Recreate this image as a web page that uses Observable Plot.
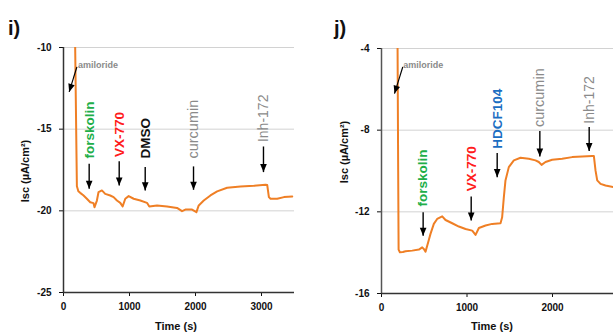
<!DOCTYPE html>
<html><head><meta charset="utf-8">
<script src="https://cdn.jsdelivr.net/npm/d3@7"></script>
<script src="https://cdn.jsdelivr.net/npm/@observablehq/plot@0.6"></script>
<style>
body{margin:0;background:#fff;}
#wrap{position:relative;width:613px;height:332px;overflow:hidden;font-family:"Liberation Sans",Arial,sans-serif;}
.panel{position:absolute;top:0;}
.lbl{position:absolute;font-weight:bold;color:#111;white-space:nowrap;line-height:1;}
</style></head><body>
<div id="wrap"></div>
<script>
// ---------- Panel i data ----------
const timeI = [150,177,195,203,225,253,300,354,405,455,470,506,531,582,632,708,759,810,860,896,936,987,1063,1164,1265,1300,1417,1569,1720,1796,1847,1948,2014,2049,2125,2226,2328,2479,2682,2884,3061,3087,3112,3137,3238,3340,3466];
const iscI  = [-4,-10,-16,-18.5,-18.8,-18.9,-19.05,-19.26,-19.47,-19.53,-19.78,-19.37,-18.85,-18.75,-18.96,-19.06,-19.16,-19.37,-19.51,-19.73,-19.26,-19.1,-19.26,-19.37,-19.51,-19.73,-19.67,-19.73,-19.82,-20.02,-19.92,-19.92,-20.08,-19.67,-19.37,-19.06,-18.81,-18.59,-18.51,-18.47,-18.4,-18.42,-19.16,-19.26,-19.26,-19.16,-19.12];
const yTicksI = [-25,-20,-15,-10];
const xTicksI = [0,1000,2000,3000];
const drugsI = ["forskolin","VX-770","DMSO","curcumin","Inh-172"];
const addTimeI = [389,844,1238,1970,3030];
const labelBaseI = [-16.8,-16.71,-16.8,-16.8,-15.79];
const arrowTopI = [-17.12,-16.96,-17.32,-17.28,-16.06];
const arrowTipI = [-18.65,-18.45,-18.75,-18.71,-17.63];
const amilorideI = {textT:218, textV:-11.23, fromT:203, fromV:-11.19, tipT:86, tipV:-12.72};

// ---------- Panel j data ----------
const timeJ = [150,188,195,200,215,250,281,359,437,476,495,515,546,573,612,651,710,749,827,905,983,1061,1100,1139,1217,1294,1392,1411,1431,1450,1489,1548,1626,1723,1801,1840,1872,1918,1996,2113,2230,2347,2464,2484,2503,2523,2562,2620,2714,2800];
const iscJ  = [-2,-4,-10,-13.85,-13.98,-13.97,-13.93,-13.9,-13.85,-13.74,-13.82,-13.95,-13.49,-13.08,-12.59,-12.35,-12.22,-12.4,-12.56,-12.72,-12.84,-12.92,-13.13,-12.79,-12.67,-12.59,-12.56,-12.27,-11.28,-10.46,-9.81,-9.48,-9.35,-9.4,-9.48,-9.56,-9.7,-9.56,-9.45,-9.4,-9.32,-9.29,-9.27,-9.27,-9.97,-10.46,-10.63,-10.71,-10.79,-10.82];
const yTicksJ = [-16,-12,-8,-4];
const xTicksJ = [0,1000,2000];
const drugsJ = ["forskolin","VX-770","HDCF104","curcumin","Inh-172"];
const addTimeJ = [487,1049,1353,1852,2429];
const labelBaseJ = [-11.74,-10.99,-8.91,-7.85,-7.68];
const arrowTopJ = [-12.02,-11.25,-9.12,-8.04,-7.85];
const arrowTipJ = [-13.17,-12.43,-10.3,-9.29,-9.02];
const amilorideJ = {textT:254, textV:-4.97, fromT:249, fromV:-4.9, tipT:152, tipV:-6.21};

// ---------- styles ----------
const drugColor = {forskolin:"#20ae48","VX-770":"#ff1c1c",DMSO:"#111111",HDCF104:"#1b6ec2",curcumin:"#8a8a8a","Inh-172":"#8a8a8a",amiloride:"#8a8a8a"};
const drugWeight = {forskolin:"bold","VX-770":"bold",DMSO:"bold",HDCF104:"bold",curcumin:"normal","Inh-172":"normal",amiloride:"bold"};
const drugSize = {forskolin:13.5,"VX-770":13.5,DMSO:13.5,HDCF104:13.5,curcumin:14.5,"Inh-172":14,amiloride:9};
const ORANGE = "#ef7f25";

function headSymbol(angleDeg){
  const a = angleDeg*Math.PI/180, c=Math.cos(a), s=Math.sin(a);
  return {draw(ctx,size){
    const r=Math.sqrt(size/Math.PI);
    const pts=[[0,0],[-0.95*r,-2.3*r],[0.95*r,-2.3*r]].map(([x,y])=>[x*c-y*s,x*s+y*c]);
    ctx.moveTo(pts[0][0],pts[0][1]); ctx.lineTo(pts[1][0],pts[1][1]); ctx.lineTo(pts[2][0],pts[2][1]); ctx.closePath();
  }};
}
const headDown = headSymbol(0);
const headDiag = headSymbol(17);

function panel(cfg){
  const idx = cfg.drugs.map((d,i)=>i);
  const line = cfg.time.map((t,i)=>({t, v:cfg.isc[i]}));
  const yMin = d3.min(cfg.yTicks), yMax = d3.max(cfg.yTicks);
  const am = cfg.amiloride;
  const marks = [
    Plot.gridY(cfg.yTicks.filter(v=>v!==yMin), {stroke:"#d2d2d2", strokeOpacity:1, strokeWidth:1}),
    Plot.axisY(cfg.yTicks, {tickSize:4, tickPadding:8, tickFormat:d=>String(d), label:null}),
    Plot.axisX(cfg.xTicks, {tickSize:4, tickPadding:6, tickFormat:d=>String(d), label:null}),
    Plot.ruleX([0], {stroke:cfg.axisColor, strokeWidth:1.5}),
    Plot.ruleY([yMin], {stroke:"#333", strokeWidth:1.5}),
    Plot.line(line, {x:"t", y:"v", stroke:ORANGE, strokeWidth:2, clip:true, curve:"linear"}),
    Plot.link(idx, {x1:i=>cfg.addTime[i], x2:i=>cfg.addTime[i], y1:i=>cfg.arrowTop[i], y2:i=>cfg.arrowTip[i], stroke:"#000", strokeWidth:1.4}),
    Plot.dot(idx, {x:i=>cfg.addTime[i], y:i=>cfg.arrowTip[i], symbol:headDown, r:3.5, fill:"#000", stroke:"none"}),
    Plot.link([am], {x1:"fromT", y1:"fromV", x2:"tipT", y2:"tipV", stroke:"#000", strokeWidth:1.2}),
    Plot.dot([am], {x:"tipT", y:"tipV", symbol:headDiag, r:3.5, fill:"#000", stroke:"none"}),
    Plot.text([am], {x:"textT", y:"textV", text:()=>"amiloride", textAnchor:"start", lineAnchor:"bottom", fill:drugColor.amiloride, fontWeight:drugWeight.amiloride, fontSize:drugSize.amiloride})
  ];
  cfg.drugs.forEach((d,i)=>{
    marks.push(Plot.text([i], {x:()=>cfg.addTime[i], y:()=>cfg.labelBase[i], text:()=>d, rotate:-90, textAnchor:"start", lineAnchor:"middle", fill:drugColor[d], fontWeight:drugWeight[d], fontSize:drugSize[d]}));
  });
  return Plot.plot({
    width:cfg.width, height:332,
    marginLeft:cfg.marginLeft, marginRight:cfg.marginRight, marginTop:cfg.marginTop, marginBottom:cfg.marginBottom,
    x:{domain:cfg.xDomain},
    y:{domain:[yMin,yMax]},
    style:{fontFamily:"'Liberation Sans', Arial, sans-serif", fontSize:"10px", fontWeight:"bold", color:"#111", background:"transparent", overflow:"visible"},
    marks
  });
}

const wrap = document.getElementById("wrap");
const pI = panel({time:timeI, isc:iscI, yTicks:yTicksI, xTicks:xTicksI, drugs:drugsI, addTime:addTimeI, labelBase:labelBaseI, arrowTop:arrowTopI, arrowTip:arrowTipI, amiloride:amilorideI,
  width:310, marginLeft:63, marginRight:16, marginTop:47, marginBottom:40, xDomain:[0,3500], axisColor:"#333"});
pI.classList.add("panel"); pI.style.left="0px";
wrap.appendChild(pI);
const pJ = panel({time:timeJ, isc:iscJ, yTicks:yTicksJ, xTicks:xTicksJ, drugs:drugsJ, addTime:addTimeJ, labelBase:labelBaseJ, arrowTop:arrowTopJ, arrowTip:arrowTipJ, amiloride:amilorideJ,
  width:338, marginLeft:71, marginRight:10.5, marginTop:48, marginBottom:39, xDomain:[0,3000], axisColor:"#555"});
pJ.classList.add("panel"); pJ.style.left="310px";
wrap.appendChild(pJ);

function addLabel(text, cx, cy, size, rot){
  const d=document.createElement("div");
  d.className="lbl"; d.textContent=text; d.style.fontSize=size+"px";
  d.style.left=cx+"px"; d.style.top=cy+"px";
  d.style.transform="translate(-50%,-50%)"+(rot?" rotate("+rot+"deg)":"");
  wrap.appendChild(d);
}
addLabel("i)", 14, 28, 20);
addLabel("j)", 340, 28, 20);
addLabel("Isc (µA/cm²)", 25, 171, 11, -90);
addLabel("Isc (µA/cm²)", 344, 152, 11, -90);
addLabel("Time (s)", 176, 326, 11);
addLabel("Time (s)", 492, 326, 11);
</script>
</body></html>
